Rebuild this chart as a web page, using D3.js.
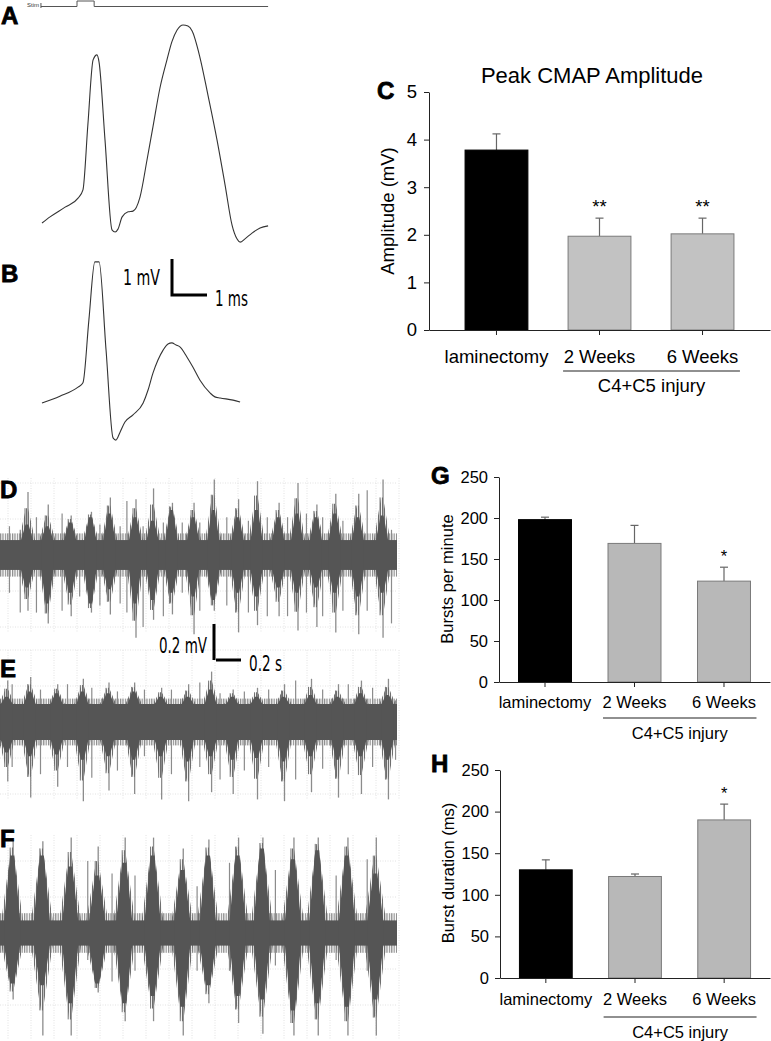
<!DOCTYPE html>
<meta charset="utf-8">
<script src="https://d3js.org/d3.v7.min.js"></script>
<style>
  body { margin: 0; background: #fff; }
</style>
<body>
<script>

// GLOBALS

var width = 771;
var height = 1041;
var FONT = "'Liberation Sans', Arial, sans-serif";
var NARROW = "'Liberation Sans Narrow', 'DejaVu Sans Condensed', sans-serif";

var groups = ["laminectomy", "2 Weeks", "6 Weeks"];

// bar chart values (mean, error)
var cmapMean = [3.78, 1.97, 2.02];
var cmapErr = [0.34, 0.38, 0.33];
var cmapStars = ["", "**", "**"];
var cmapTicks = [0, 1, 2, 3, 4, 5];

var burstsMean = [198, 169, 123];
var burstsErr = [3, 22, 17];
var burstsStars = ["", "", "*"];

var durMean = [130, 122, 190];
var durErr = [12, 3, 19];
var durStars = ["", "", "*"];
var countTicks = [0, 50, 100, 150, 200, 250];

// CMAP traces (ms, mV)
var traceAms = [0,0.23,0.66,1.03,1.17,1.31,1.46,1.57,1.63,1.80,2.00,2.09,2.17,2.29,2.46,2.60,2.80,3.00,3.17,3.37,3.57,3.71,3.86,4.03,4.17,4.29,4.51,4.74,5.00,5.23,5.43,5.57,5.66,5.80,6.00,6.23,6.46];
var traceAmV = [0,0.17,0.44,0.69,0.92,2.72,4.53,4.67,4.47,2.31,-0.19,-0.25,-0.17,0.17,0.31,0.33,0.72,1.75,2.67,3.75,4.53,5.03,5.36,5.50,5.47,5.33,4.61,3.56,2.31,1.06,-0.06,-0.44,-0.53,-0.44,-0.28,-0.14,-0.08];
var traceBms = [0,0.51,1.03,1.17,1.34,1.51,1.63,1.83,2.03,2.11,2.23,2.37,2.60,2.89,3.03,3.17,3.31,3.46,3.60,3.71,3.83,3.94,4.14,4.31,4.51,4.80,4.94,5.09,5.46,5.66];
var traceBmV = [0,0.19,0.44,0.56,2.31,3.92,3.92,1.47,-0.97,-1.03,-0.81,-0.53,-0.33,0,0.36,0.83,1.19,1.47,1.64,1.67,1.61,1.56,1.28,1.0,0.64,0.28,0.17,0.14,0.08,0.03];
var stimMs = [-0.03, 1.0, 1.0, 1.49, 1.49, 6.46];
var stimLevel = [0, 0, 1, 1, 0, 0];

// EMG bursts (s, mV)
var dBurstT = [0.20,0.35,0.52,0.67,0.81,1.00,1.13,1.27,1.43,1.58,1.76,1.90,2.06,2.20,2.34,2.48,2.65,2.83];
var dBodyUp = [.17,.16,.18,.21,.23,.21,.19,.25,.21,.25,.21,.25,.21,.23,.21,.23,.21,.22];
var dBodyDn = [.18,.27,.21,.27,.19,.27,.25,.21,.23,.25,.21,.23,.18,.21,.18,.21,.23,.21];
var dPeakUp = [.35,.28,.22,.24,.32,.31,.37,.29,.29,.42,.31,.41,.29,.40,.28,.34,.34,.42];
var dPeakDn = [.31,.38,.34,.32,.33,.46,.36,.33,.44,.31,.43,.39,.34,.42,.40,.43,.44,.46];
var dSpikeT = [.07,.15,.27,.46,.59,.74,.89,.94,1.06,1.21,1.35,1.48,1.68,1.84,1.98,2.13,2.27,2.39,2.54,2.72,2.90];
var dSpikeUp = [.16,.14,.21,.23,.08,.17,.16,.30,.16,.18,.18,.18,.21,.19,.21,.21,.23,.21,.19,.36,.14];
var dSpikeDn = [.21,.32,.32,.31,.23,.28,.27,.32,.40,.34,.21,.31,.28,.32,.34,.34,.32,.34,.31,.31,.38];

var eBurstT = [.05,.22,.42,.61,.80,.99,1.19,1.39,1.56,1.72,1.90,2.10,2.30,2.50,2.67,2.87];
var eBodyUp = [.14,.17,.16,.17,.16,.17,.14,.14,.18,.14,.14,.14,.15,.14,.16,.15];
var eBodyDn = [.17,.19,.18,.21,.19,.21,.19,.22,.19,.21,.20,.22,.19,.21,.19,.21];
var ePeakUp = [.23,.25,.21,.24,.22,.22,.19,.21,.28,.18,.19,.21,.24,.21,.23,.24];
var ePeakDn = [.33,.42,.36,.44,.38,.40,.43,.44,.39,.40,.43,.44,.39,.42,.40,.43];
var eSpikeT = [.09,.30,.50,.68,.87,1.07,1.27,1.48,1.63,1.81,1.99,2.19,2.39,2.58,2.76,2.93];
var eSpikeUp = [.21,.18,.21,.19,.17,.18,.18,.22,.16,.17,.18,.23,.18,.21,.19,.12];
var eSpikeDn = [.25,.29,.25,.31,.27,.19,.29,.25,.32,.27,.25,.32,.26,.29,.25,.21];

var fBurstT = [.09,.31,.52,.72,.92,1.13,1.35,1.54,1.76,1.94,2.17,2.35,2.57,2.78];
var fBodyUp = [.43,.43,.37,.32,.39,.43,.35,.43,.43,.47,.41,.46,.43,.33];
var fBodyDn = [.28,.29,.39,.28,.39,.35,.41,.29,.35,.37,.43,.39,.41,.37];
var fPeakUp = [.52,.51,.53,.48,.53,.53,.47,.52,.53,.53,.53,.53,.53,.53];
var fPeakDn = [.37,.57,.57,.33,.49,.49,.57,.39,.50,.56,.57,.57,.57,.57];
var fSpikeT = [.65,.83,1.00,1.46,1.70,2.04,2.49,2.72];
var fSpikeUp = [.40,.33,.32,.26,.39,.35,.32,.41];
var fSpikeDn = [.15,.27,.21,.21,.21,.18,.15,.21];


// SVG SETUP

var svg = d3.select("body")
  .append("svg")
  .attr("width", width)
  .attr("height", height)
  .style("font-family", FONT);

svg.append("rect").attr("width", width).attr("height", height).attr("fill", "#fff");

var defs = svg.append("defs");
defs.append("pattern")
  .attr("id", "hatch")
  .attr("width", 2.4).attr("height", 10)
  .attr("patternUnits", "userSpaceOnUse")
  .append("rect").attr("width", 1.2).attr("height", 10).attr("fill", "#8a8a8a");
defs.append("pattern")
  .attr("id", "hatchDark")
  .attr("width", 2).attr("height", 10)
  .attr("patternUnits", "userSpaceOnUse")
  .append("rect").attr("width", 1.1).attr("height", 10).attr("fill", "#6e6e6e");

function panelLabel(t, x, y) {
  svg.append("text")
    .attr("x", x).attr("y", y)
    .style("font-size", "24px")
    .style("font-weight", "bold")
    .attr("stroke", "#000").attr("stroke-width", 0.8)
    .text(t);
}

// condensed label: squeeze to the measured width
function narrowText(t, x, y, w, anchor) {
  svg.append("text").attr("x", x).attr("y", y).attr("text-anchor", anchor)
    .style("font-family", NARROW).style("font-size", "21px")
    .attr("textLength", w).attr("lengthAdjust", "spacingAndGlyphs")
    .text(t);
}


// CMAP TRACES

var xT = d3.scaleLinear().domain([0, 1]).range([42, 77]);
var yA = d3.scaleLinear().domain([0, 1]).range([223, 187]);
var yB = d3.scaleLinear().domain([0, 1]).range([403, 367]);
var yStim = d3.scaleLinear().domain([0, 1]).range([6.5, 1]);

var line = d3.line().curve(d3.curveMonotoneX);

svg.append("path")
  .attr("d", d3.line()(stimMs.map((t, i) => [xT(t), yStim(stimLevel[i])])))
  .attr("fill", "none").attr("stroke", "#555").attr("stroke-width", 1);
svg.append("line").attr("x1", xT(-0.03)).attr("x2", xT(-0.03)).attr("y1", 3).attr("y2", 8)
  .attr("stroke", "#555");
svg.append("text").attr("x", 27).attr("y", 7).style("font-size", "6px").attr("fill", "#333").text("Stim");

svg.append("path")
  .attr("d", line(traceAms.map((t, i) => [xT(t), yA(traceAmV[i])])))
  .attr("fill", "none").attr("stroke", "#333").attr("stroke-width", 1.1);

svg.append("path")
  .attr("d", line(traceBms.map((t, i) => [xT(t), yB(traceBmV[i])])))
  .attr("fill", "none").attr("stroke", "#333").attr("stroke-width", 1.1);

// 1 mV / 1 ms scale bar
var sbx = 172, sby = 295;
svg.append("path")
  .attr("d", `M${sbx},${sby - (yA(0) - yA(1))}V${sby}H${sbx + xT(1) - xT(0)}`)
  .attr("fill", "none").attr("stroke", "#000").attr("stroke-width", 3);
narrowText("1 mV", 160, 285, 37, "end");
narrowText("1 ms", 215, 306, 33, "start");

panelLabel("A", 1, 24);
panelLabel("B", 1, 282);


// BAR CHARTS

function barChart(o) {
  var x = d3.scaleBand().domain(groups).range([o.left, o.right])
    .paddingInner(o.pi).paddingOuter(o.po);
  var y = d3.scaleLinear().domain([0, o.max]).range([o.bottom, o.top]);
  var g = svg.append("g");
  var bw = x.bandwidth();

  g.append("g")
    .attr("transform", `translate(${o.left},0)`)
    .call(d3.axisLeft(y).tickValues(o.ticks).tickFormat(d3.format("d"))
      .tickSize(5).tickSizeOuter(0).tickPadding(o.pad))
    .call(a => a.selectAll("text").style("font-size", o.fs + "px").style("font-family", FONT).attr("fill", "#000"))
    .call(a => a.selectAll("line,path").attr("stroke", "#222"));

  // error bars
  groups.forEach((d, i) => {
    var cx = x(d) + bw / 2;
    g.append("line").attr("x1", cx).attr("x2", cx)
      .attr("y1", y(o.mean[i])).attr("y2", y(o.mean[i] + o.err[i]))
      .attr("stroke", "#666").attr("stroke-width", 1.2);
    g.append("line").attr("x1", cx - 4).attr("x2", cx + 4)
      .attr("y1", y(o.mean[i] + o.err[i])).attr("y2", y(o.mean[i] + o.err[i]))
      .attr("stroke", "#666").attr("stroke-width", 1.2);
    if (o.stars[i]) {
      g.append("text").attr("x", cx).attr("y", y(o.mean[i] + o.err[i]) - 5)
        .attr("text-anchor", "middle").style("font-size", o.fs + "px")
        .text(o.stars[i]);
    }
  });

  g.selectAll("rect.bar")
    .data(groups)
    .enter().append("rect")
    .attr("class", "bar")
    .attr("x", d => x(d))
    .attr("y", (d, i) => y(o.mean[i]))
    .attr("width", bw)
    .attr("height", (d, i) => o.bottom - y(o.mean[i]))
    .attr("fill", (d, i) => i ? o.gray : "#000")
    .attr("stroke", (d, i) => i ? "#7a7a7a" : "#000")
    .attr("stroke-width", 1);

  g.append("g")
    .attr("transform", `translate(0,${o.bottom})`)
    .call(d3.axisBottom(x).tickSize(5).tickSizeOuter(0).tickFormat(""))
    .call(a => a.selectAll("line,path").attr("stroke", "#222"));

  groups.forEach(d => {
    g.append("text").attr("x", x(d) + bw / 2).attr("y", o.bottom + o.labelDy)
      .attr("text-anchor", "middle").style("font-size", o.fs + "px").text(d);
  });

  var bx1 = x(groups[1]) - 5, bx2 = x(groups[2]) + bw + 6;
  g.append("line").attr("x1", bx1).attr("x2", bx2)
    .attr("y1", o.bottom + o.bracketDy).attr("y2", o.bottom + o.bracketDy)
    .attr("stroke", "#222").attr("stroke-width", 1.2);
  g.append("text").attr("x", (bx1 + bx2) / 2).attr("y", o.bottom + o.bracketDy + 21)
    .attr("text-anchor", "middle").style("font-size", o.fs + "px").text("C4+C5 injury");

  g.append("text")
    .attr("transform", `translate(${o.ylx},${o.yly}) rotate(-90)`)
    .attr("text-anchor", "middle").style("font-size", o.fs + "px").text(o.ylabel);
}

barChart({
  left: 429, right: 770, top: 92, bottom: 330, max: 5, ticks: cmapTicks,
  pi: 0.39, po: 0.35, fs: 18.5, pad: 7, gray: "#c2c2c2",
  mean: cmapMean, err: cmapErr, stars: cmapStars,
  labelDy: 33, bracketDy: 41, ylx: 394, yly: 211, ylabel: "Amplitude (mV)"
});
svg.append("text").attr("x", 592).attr("y", 83).attr("text-anchor", "middle")
  .style("font-size", "22px").text("Peak CMAP Amplitude");
panelLabel("C", 377, 99);

barChart({
  left: 499, right: 770, top: 477, bottom: 682, max: 250, ticks: countTicks,
  pi: 0.408, po: 0.218, fs: 16.5, pad: 6, gray: "#b8b8b8",
  mean: burstsMean, err: burstsErr, stars: burstsStars,
  labelDy: 26, bracketDy: 36, ylx: 453, yly: 579, ylabel: "Bursts per minute"
});
panelLabel("G", 431, 484);

barChart({
  left: 500, right: 770, top: 770, bottom: 978, max: 250, ticks: countTicks,
  pi: 0.408, po: 0.218, fs: 16.5, pad: 6, gray: "#b8b8b8",
  mean: durMean, err: durErr, stars: durStars,
  labelDy: 27, bracketDy: 39, ylx: 454, yly: 873, ylabel: "Burst duration (ms)"
});
panelLabel("H", 431, 772);


// EMG TRACES

var xE = d3.scaleLinear().domain([0, 1]).range([0, 135]);

function emg(o) {
  var y = d3.scaleLinear().domain([-1, 1]).range([o.cy + 180, o.cy - 180]);
  var g = svg.append("g");

  // faint recording grid
  d3.range(8, 400, 23).forEach(gx => {
    g.append("line").attr("x1", gx).attr("x2", gx).attr("y1", o.gTop).attr("y2", o.gBot)
      .attr("stroke", "#e2e2e2").attr("stroke-dasharray", "1,1.5");
  });
  [-0.4, -0.2, 0.2, 0.4].forEach(v => {
    g.append("line").attr("x1", 0).attr("x2", 397).attr("y1", y(v)).attr("y2", y(v))
      .attr("stroke", "#e2e2e2").attr("stroke-dasharray", "1,1.5");
  });

  g.append("rect").attr("x", 0).attr("width", 397)
    .attr("y", y(o.fringe)).attr("height", y(-o.fringe) - y(o.fringe))
    .attr("fill", "url(#hatch)");

  // isolated spikes
  o.spikeT.forEach((t, i) => {
    g.append("line").attr("x1", xE(t)).attr("x2", xE(t))
      .attr("y1", y(o.spikeUp[i])).attr("y2", y(-o.spikeDn[i]))
      .attr("stroke", "#8c8c8c").attr("stroke-width", 1.2);
  });
  // burst peaks
  o.burstT.forEach((t, i) => {
    g.append("line").attr("x1", xE(t) + 1).attr("x2", xE(t) + 1)
      .attr("y1", y(o.peakUp[i])).attr("y2", y(-o.peakDn[i]))
      .attr("stroke", "#8c8c8c").attr("stroke-width", 1.3);
    g.append("line").attr("x1", xE(t) - 2).attr("x2", xE(t) - 2)
      .attr("y1", y((o.peakUp[i] + o.bodyUp[i]) / 2)).attr("y2", y(-(o.peakDn[i] + o.bodyDn[i]) / 2))
      .attr("stroke", "#777").attr("stroke-width", 1);
  });

  // ragged halo of each burst (striped), then the solid core
  o.burstT.forEach((t, i) => {
    var cx = xE(t), hw = o.hw * 1.35;
    var up = (o.bodyUp[i] + o.peakUp[i]) / 2, dn = (o.bodyDn[i] + o.peakDn[i]) / 2;
    var pts = [
      [cx - hw, y(o.band)], [cx - 1, y(up)], [cx + 1, y(up)], [cx + hw, y(o.band)],
      [cx + hw, y(-o.band)], [cx + 1, y(-dn)], [cx - 1, y(-dn)], [cx - hw, y(-o.band)]
    ];
    g.append("polygon").attr("points", pts.map(p => p.join(",")).join(" "))
      .attr("fill", "url(#hatchDark)");
  });

  g.append("rect").attr("x", 0).attr("width", 397)
    .attr("y", y(o.band)).attr("height", y(-o.band) - y(o.band))
    .attr("fill", "#555");

  o.burstT.forEach((t, i) => {
    var cx = xE(t), hw = o.hw;
    var pts = [
      [cx - hw, y(o.band)], [cx - hw * 0.25, y(o.bodyUp[i])], [cx + hw * 0.25, y(o.bodyUp[i])],
      [cx + hw, y(o.band)], [cx + hw, y(-o.band)], [cx + hw * 0.25, y(-o.bodyDn[i])],
      [cx - hw * 0.25, y(-o.bodyDn[i])], [cx - hw, y(-o.band)]
    ];
    g.append("polygon").attr("points", pts.map(p => p.join(",")).join(" "))
      .attr("fill", "#555");
  });
}

emg({
  cy: 555, band: 0.083, fringe: 0.12, hw: 6, gTop: 478, gBot: 632,
  burstT: dBurstT, bodyUp: dBodyUp, bodyDn: dBodyDn, peakUp: dPeakUp, peakDn: dPeakDn,
  spikeT: dSpikeT, spikeUp: dSpikeUp, spikeDn: dSpikeDn
});
emg({
  cy: 722, band: 0.10, fringe: 0.13, hw: 6, gTop: 650, gBot: 800,
  burstT: eBurstT, bodyUp: eBodyUp, bodyDn: eBodyDn, peakUp: ePeakUp, peakDn: ePeakDn,
  spikeT: eSpikeT, spikeUp: eSpikeUp, spikeDn: eSpikeDn
});
emg({
  cy: 933, band: 0.07, fringe: 0.11, hw: 8, gTop: 835, gBot: 1040,
  burstT: fBurstT, bodyUp: fBodyUp, bodyDn: fBodyDn, peakUp: fPeakUp, peakDn: fPeakDn,
  spikeT: fSpikeT, spikeUp: fSpikeUp, spikeDn: fSpikeDn
});

// 0.2 mV / 0.2 s scale bar
var ex = 214, ey = 660;
svg.append("path")
  .attr("d", `M${ex},${ey - 0.2 * 180}V${ey}M${ex + 2},${ey}H${ex + xE(0.2)}`)
  .attr("fill", "none").attr("stroke", "#000").attr("stroke-width", 3);
narrowText("0.2 mV", 207, 653, 48, "end");
narrowText("0.2 s", 249, 671, 33, "start");

panelLabel("D", 0, 498);
panelLabel("E", 0, 677);
panelLabel("F", 0, 847);

</script>
